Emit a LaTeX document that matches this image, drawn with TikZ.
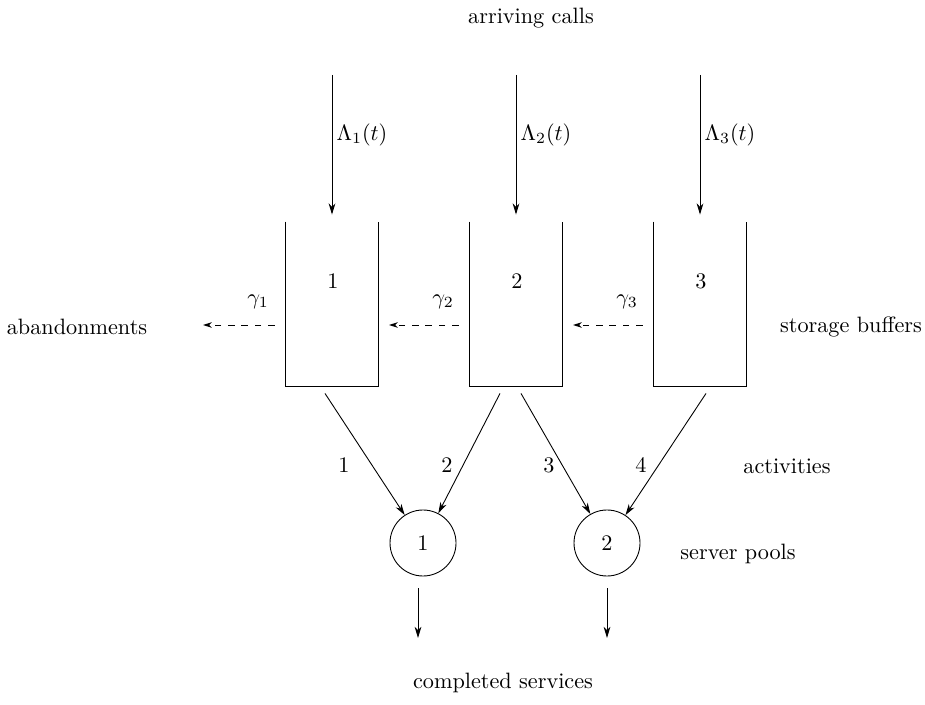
\documentclass[tikz,border=0pt]{standalone}
\usepackage{amsmath,amssymb}
\usepackage{tikz}
\usetikzlibrary{calc,arrows.meta}

\tikzset{
  flow/.style={-{Stealth[length=5pt,width=3pt,inset=1.5pt]}},
  lost/.style={dashed,-{Stealth[length=4pt,width=2.5pt]}},
  buffer/.style={minimum width=41.4pt,minimum height=73.8pt,inner sep=0pt},
  pool/.style={draw,circle,minimum size=29.7pt,inner sep=0pt}
}

\begin{document}
\begin{tikzpicture}[x=0.45pt,y=-0.45pt]
        \useasboundingbox (0,0) rectangle (925,705);

        % top and bottom texts
        \node (calls) at (531,18) {arriving calls};
        \node (done) at (503,683) {completed services};
        \node (aband) at (77,327) {abandonments};
        \node (store) at (851,327) {storage buffers};
        \node (acts) at (787,466) {activities};
        \node (pools) at (738,554) {server pools};

         % buffers
        \node[buffer] (b1) at (332,304) {};
        \node[buffer] (b2) at (516,304) {};
        \node[buffer] (b3) at (700,304) {};
        \foreach \b in {b1,b2,b3}
          \draw (\b.north west) -- (\b.south west) -- (\b.south east) -- (\b.north east);
        \node (n1) at (333,281) {1};
        \node (n2) at (517,281) {2};
        \node (n3) at (701,281) {3};

         % arrivals
        \coordinate (in1) at (332,75);
        \coordinate (in2) at (516,75);
        \coordinate (in3) at (700,75);
        \draw[flow] (in1) -- ($(b1.north)+(0,-7)$);
        \draw[flow] (in2) -- ($(b2.north)+(0,-7)$);
        \draw[flow] (in3) -- ($(b3.north)+(0,-7)$);
        \node (lam1) at (362,135) {$\Lambda_1(t)$};
        \node (lam2) at (546,135) {$\Lambda_2(t)$};
        \node (lam3) at (730,135) {$\Lambda_3(t)$};

         % abandonments
        \coordinate (out1) at (203,325);
        \coordinate (out2) at (389,325);
        \coordinate (out3) at (573,325);
        \draw[lost] ($(b1.west)+(-11,21)$) -- (out1);
        \draw[lost] ($(b2.west)+(-11,21)$) -- (out2);
        \draw[lost] ($(b3.west)+(-11,21)$) -- (out3);
        \node (g1) at (258,302) {$\gamma_1$};
        \node (g2) at (443,302) {$\gamma_2$};
        \node (g3) at (627,302) {$\gamma_3$};

         % server pools
        \node[pool] (p1) at (423,543) {1};
        \node[pool] (p2) at (607,543) {2};

         % activities
        \draw[flow] ($(b1.south)+(-7,7)$) -- (p1);
        \draw[flow] ($(b2.south)+(-16,7)$) -- (p1);
        \draw[flow] ($(b2.south)+(5,7)$) -- (p2);
        \draw[flow] ($(b3.south)+(6,7)$) -- (p2);
        \node (a1) at (344,465) {1};
        \node (a2) at (447,465) {2};
        \node (a3) at (549,465) {3};
        \node (a4) at (641,465) {4};

         % services
        \coordinate (s1) at (418,638);
        \coordinate (s2) at (607,638);
        \draw[flow] ($(p1.south)+(-5,12)$) -- (s1);
        \draw[flow] ($(p2.south)+(0,12)$) -- (s2);
\end{tikzpicture}
\end{document}
